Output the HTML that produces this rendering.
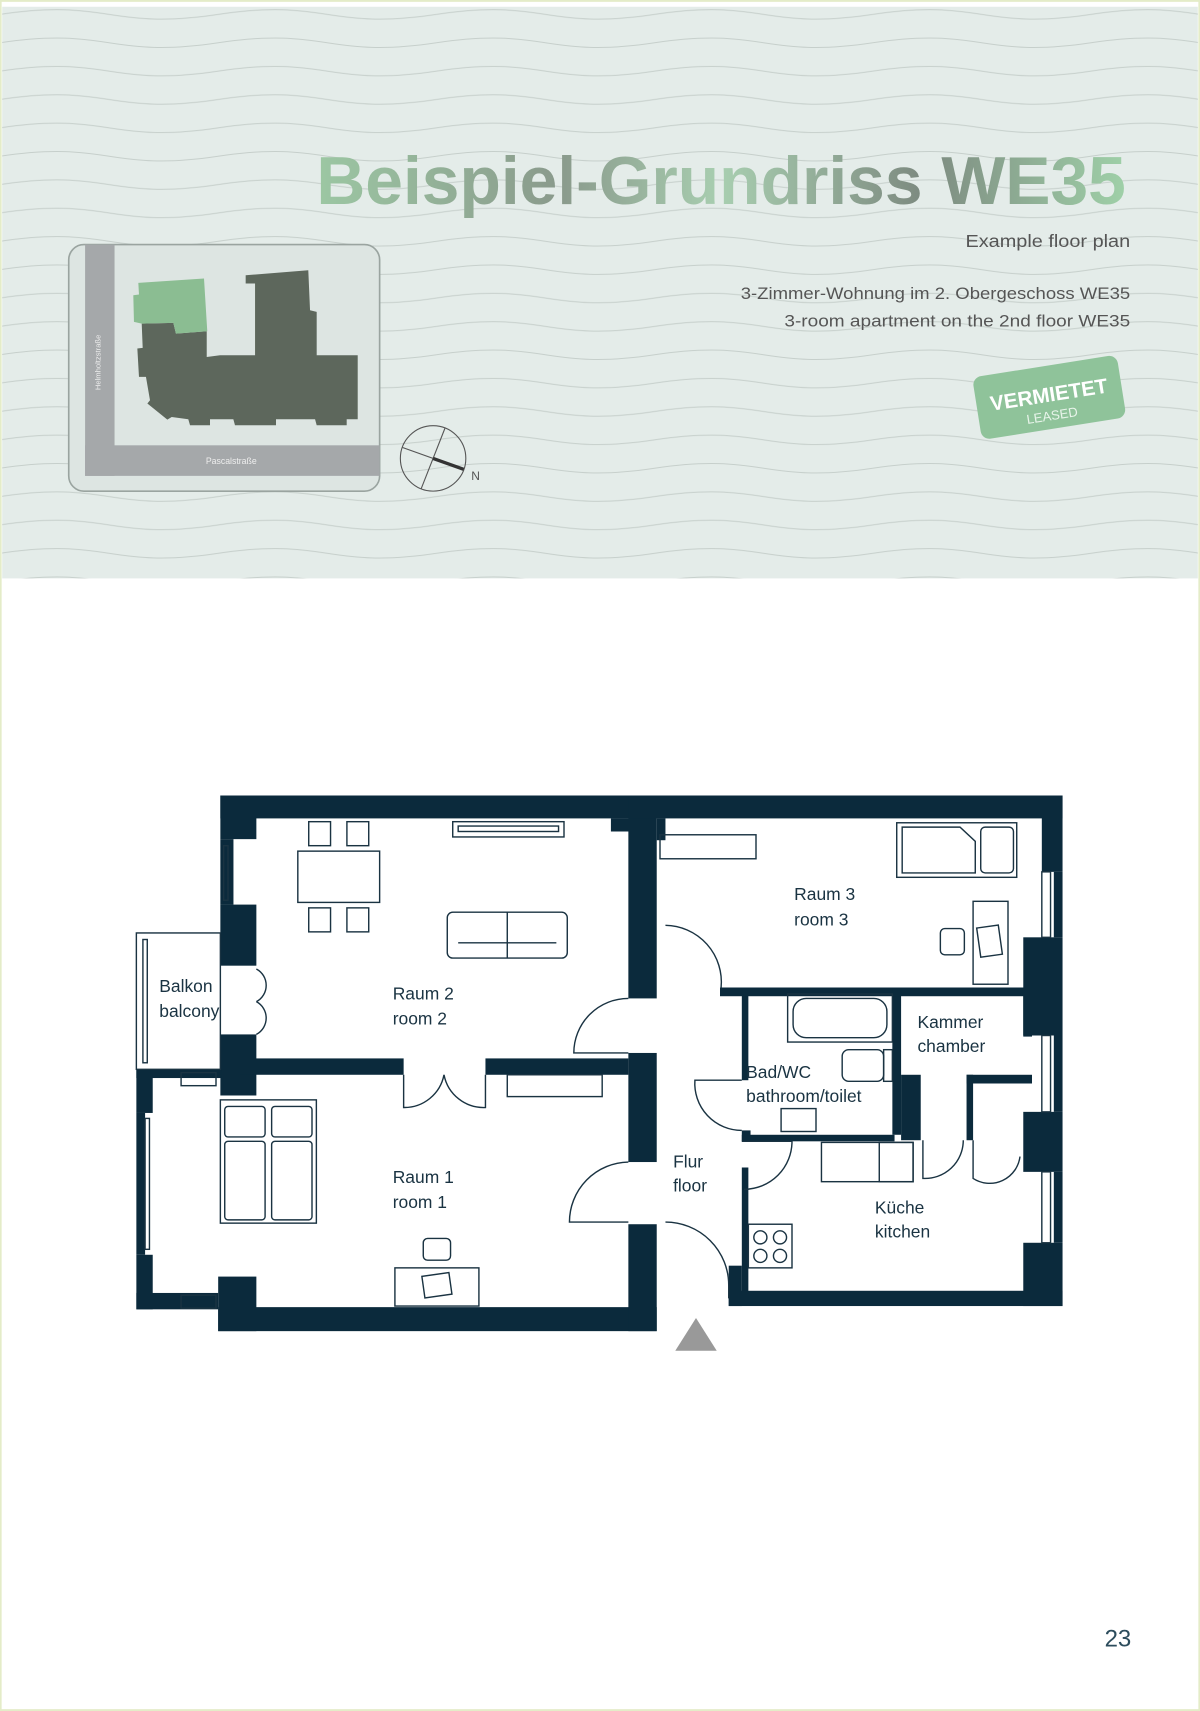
<!DOCTYPE html>
<html><head><meta charset="utf-8"><style>
html,body{margin:0;padding:0;background:#fff}
svg{display:block}
text{font-family:"Liberation Sans",sans-serif}
</style></head><body>
<svg width="1200" height="1711" viewBox="0 0 1100 1568" xmlns="http://www.w3.org/2000/svg">
<defs>
<linearGradient id="tg" x1="0" x2="1" y1="0" y2="0">
<stop offset="0" stop-color="#9cc7a3"/><stop offset="0.3" stop-color="#8a9a8c"/><stop offset="0.5" stop-color="#a8ceb0"/><stop offset="0.75" stop-color="#7d8a80"/><stop offset="1" stop-color="#9fd0a8"/>
</linearGradient>
<pattern id="wave" width="400" height="26" patternUnits="userSpaceOnUse">
<path d="M0 13 C100 -2 100 28 200 13 C300 -2 300 28 400 13" fill="none" stroke="#c6cfcb" stroke-width="1"/>
</pattern>
</defs>
<rect x="0" y="0" width="1100" height="1568" fill="#fff" stroke="#e4ecc8" stroke-width="3"/>
<rect x="2" y="6" width="1096" height="524" fill="#e4ece9"/>
<rect x="2" y="6" width="1096" height="524" fill="url(#wave)"/>
<text x="290" y="187" textLength="742" lengthAdjust="spacingAndGlyphs" font-size="62" font-weight="bold" fill="url(#tg)">Beispiel-Grundriss WE35</text>
<text x="885" y="226" textLength="151" lengthAdjust="spacingAndGlyphs" font-size="16" fill="#555">Example floor plan</text>
<text x="679" y="274" textLength="357" lengthAdjust="spacingAndGlyphs" font-size="15" fill="#555">3-Zimmer-Wohnung im 2. Obergeschoss WE35</text>
<text x="719" y="299" textLength="317" lengthAdjust="spacingAndGlyphs" font-size="15" fill="#555">3-room apartment on the 2nd floor WE35</text>
<g transform="rotate(-9 962 365)">
<rect x="895" y="335" width="134" height="58" rx="8" fill="#8fc39a"/>
<text x="962" y="368" text-anchor="middle" font-size="19" font-weight="bold" fill="#fff">VERMIETET</text>
<text x="962" y="385" text-anchor="middle" font-size="12" fill="#e8f4ea">LEASED</text>
</g>
<!-- site map -->
<rect x="63" y="224" width="285" height="226" rx="14" fill="#dde5e2" stroke="#9aa4a0" stroke-width="1.5"/>
<rect x="78" y="224" width="27" height="212" fill="#a5a8aa"/>
<rect x="78" y="408" width="270" height="28" fill="#a5a8aa"/>
<text x="92" y="332" font-size="7" fill="#eee" transform="rotate(-90 92 332)" text-anchor="middle">Helmholtzstraße</text>
<text x="212" y="425" font-size="8" fill="#eee" text-anchor="middle">Pascalstraße</text>
<path d="M129.9 296.4 L158.9 295.8 L161.3 305.6 L189.5 303.4 L189.5 327 L201.7 325.4 L233.8 325.4 L233.8 259.7 L225.2 259.7 L225.2 252.1 L282.6 247.5 L284.2 284.2 L290.3 285.7 L290.3 325.4 L327.9 325.4 L327.9 384.1 L317.8 384.1 L317.8 389.6 L290.3 389.6 L288.8 384.1 L253 384.1 L253 389.6 L215.4 389.6 L213.9 384.1 L192.5 384.1 L192.5 389.6 L174.2 389.6 L172.6 384.1 L157.4 382 L153.4 384.4 L135.1 369.7 L137.5 366.7 L133.8 345.3 L127.4 345.3 L125.9 319.3 L130.8 318.7 Z" fill="#5d675c"/>
<path d="M126.8 259.1 L187 255.1 L190 303.4 L161.3 305.6 L158.9 295.8 L129.9 296.4 L122.8 294.9 L122.2 270.4 L127.4 269.8 Z" fill="#8bbd92"/>
<circle cx="397" cy="420" r="30" fill="none" stroke="#555" stroke-width="1"/>
<line x1="369" y1="410" x2="425" y2="430" stroke="#555" stroke-width="1"/>
<line x1="408" y1="392" x2="386" y2="448" stroke="#555" stroke-width="1"/>
<line x1="397" y1="420" x2="425" y2="430" stroke="#333" stroke-width="3"/>
<text x="432" y="440" font-size="11" fill="#555">N</text>
<!-- floor plan walls -->
<g fill="#0b2a3c">
<rect x="202" y="729" width="772" height="21"/>
<rect x="202" y="729" width="33" height="40"/>
<rect x="202" y="769" width="12" height="60"/>
<rect x="202" y="829" width="33" height="56"/>
<rect x="202" y="948" width="33" height="56"/>
<rect x="125" y="980" width="78" height="8"/>
<rect x="125" y="980" width="15" height="40"/>
<rect x="125" y="1020" width="8" height="130"/>
<rect x="125" y="1150" width="15" height="50"/>
<rect x="125" y="1185" width="75" height="15"/>
<rect x="200" y="1170" width="35" height="50"/>
<rect x="200" y="1198" width="402" height="22"/>
<rect x="576" y="729" width="26" height="186"/>
<rect x="576" y="965" width="26" height="100"/>
<rect x="576" y="1122" width="26" height="98"/>
<rect x="220" y="970" width="150" height="15"/>
<rect x="445" y="970" width="131" height="15"/>
<rect x="602" y="750" width="8" height="20"/>
<rect x="560" y="750" width="40" height="12"/>
<rect x="660" y="905" width="300" height="8"/>
<rect x="680" y="905" width="6" height="85"/>
<rect x="680" y="1036" width="8" height="10"/>
<rect x="680" y="1040" width="140" height="6"/>
<rect x="818" y="905" width="8" height="135"/>
<rect x="826" y="985" width="18" height="60"/>
<rect x="886" y="985" width="60" height="8"/>
<rect x="886" y="985" width="6" height="60"/>
<rect x="938" y="905" width="8" height="45"/>
<rect x="680" y="1070" width="6" height="120"/>
<rect x="668" y="1160" width="12" height="37"/>
<rect x="668" y="1183" width="306" height="14"/>
<rect x="955" y="729" width="19" height="70"/>
<rect x="966" y="799" width="8" height="60"/>
<rect x="938" y="859" width="36" height="90"/>
<rect x="966" y="949" width="8" height="70"/>
<rect x="938" y="1019" width="36" height="55"/>
<rect x="966" y="1074" width="8" height="65"/>
<rect x="938" y="1139" width="36" height="58"/>
</g>
<polygon points="619,1238 657,1238 638,1208" fill="#999"/>
<!-- furniture & doors -->
<g fill="none" stroke="#1a3342" stroke-width="1.3">
<rect x="125" y="855" width="77" height="125"/>
<rect x="131" y="861" width="4" height="113"/>
<rect x="205" y="775" width="4" height="50"/>
<rect x="133" y="1025" width="4" height="120"/>
<rect x="166" y="983" width="32" height="12"/>
<rect x="166" y="1187" width="32" height="12"/>
<path d="M235 888 A17 17 0 0 1 235 918 M235 918 A17 17 0 0 1 235 948"/>
<rect x="283" y="753" width="20" height="22"/><rect x="318" y="753" width="20" height="22"/>
<rect x="273" y="780" width="75" height="47"/>
<rect x="283" y="832" width="20" height="22"/><rect x="318" y="832" width="20" height="22"/>
<rect x="415" y="753" width="102" height="14"/><rect x="420" y="757" width="92" height="5"/>
<rect x="410" y="836" width="110" height="42" rx="5"/>
<line x1="465" y1="836" x2="465" y2="878"/><line x1="420" y1="864" x2="510" y2="864"/>
<path d="M370 985 L370 1015 A37 37 0 0 0 407 985 M445 985 L445 1015 A37 37 0 0 1 407 985"/>
<rect x="465" y="985" width="87" height="20"/>
<rect x="202" y="1008" width="88" height="113"/>
<rect x="206" y="1014" width="37" height="28" rx="3"/><rect x="249" y="1014" width="37" height="28" rx="3"/>
<rect x="206" y="1046" width="37" height="72" rx="3"/><rect x="249" y="1046" width="37" height="72" rx="3"/>
<rect x="388" y="1135" width="25" height="20" rx="4"/>
<rect x="362" y="1162" width="77" height="35"/>
<rect x="388" y="1168" width="25" height="20" transform="rotate(-8 400 1178)"/>
<path d="M576 915 A50 50 0 0 0 526 965 L576 965"/>
<path d="M576 1065 A55 55 0 0 0 522 1120 L576 1120"/>
<path d="M610 848 A52 52 0 0 1 661 905"/>
<path d="M610 1120 A58 58 0 0 1 668 1178 L668 1190"/>
<rect x="605" y="765" width="88" height="22"/>
<rect x="822" y="754" width="110" height="50"/>
<path d="M827 758 L880 758 L894 771 L894 800 L827 800 Z"/>
<rect x="899" y="758" width="30" height="42" rx="4"/>
<rect x="892" y="826" width="32" height="76"/>
<rect x="897" y="849" width="20" height="27" transform="rotate(-8 907 862)"/>
<rect x="862" y="851" width="22" height="24" rx="4"/>
<rect x="722" y="911" width="96" height="44"/>
<rect x="727" y="915" width="86" height="36" rx="12"/>
<rect x="772" y="962" width="38" height="29" rx="6"/>
<rect x="810" y="962" width="8" height="29"/>
<rect x="716" y="1016" width="32" height="21"/>
<path d="M680 990 L637 990 A43 43 0 0 0 680 1036"/>
<path d="M680 1046 L726 1046 A44 44 0 0 1 682 1090"/>
<rect x="753" y="1047" width="84" height="36"/><rect x="806" y="1047" width="31" height="36"/>
<path d="M846 1045 L846 1080 A35 35 0 0 0 883 1045"/>
<path d="M892 1045 L892 1080 A28 28 0 0 0 935 1060"/>
<rect x="686" y="1122" width="40" height="40"/>
<circle cx="697" cy="1134" r="6"/><circle cx="715" cy="1134" r="6"/><circle cx="697" cy="1151" r="6"/><circle cx="715" cy="1151" r="6"/>
<rect x="955" y="799" width="8" height="60"/><rect x="955" y="949" width="8" height="70"/><rect x="955" y="1074" width="8" height="65"/>
</g>
<g font-size="16" fill="#1a3342">
<text x="146" y="909">Balkon</text><text x="146" y="932">balcony</text>
<text x="360" y="916">Raum 2</text><text x="360" y="939">room 2</text>
<text x="360" y="1084">Raum 1</text><text x="360" y="1107">room 1</text>
<text x="728" y="825">Raum 3</text><text x="728" y="848">room 3</text>
<text x="841" y="942">Kammer</text><text x="841" y="964">chamber</text>
<text x="684" y="988">Bad/WC</text><text x="684" y="1010">bathroom/toilet</text>
<text x="617" y="1070">Flur</text><text x="617" y="1092">floor</text>
<text x="802" y="1112">Küche</text><text x="802" y="1134">kitchen</text>
</g>
<text x="1037" y="1509" text-anchor="end" font-size="22" fill="#2c4c5c">23</text>
</svg>
</body></html>
